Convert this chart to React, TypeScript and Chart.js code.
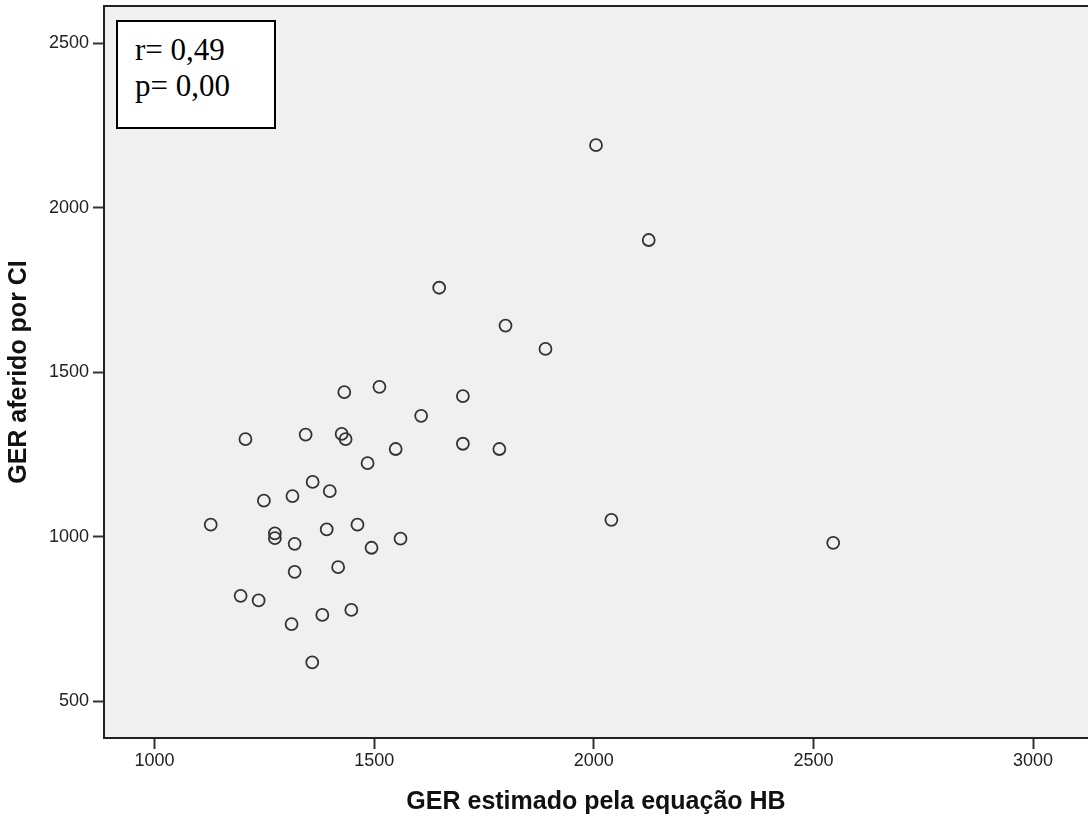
import React, { useEffect, useRef } from "react";
import { Chart, registerables } from "chart.js";

Chart.register(...registerables);

// GER estimado pela equação HB (x) and GER aferido por CI (y)
const gerEstimado = [
  2005, 2125, 1648, 1799, 1890, 1512, 1432, 1702, 1607, 1207,
  1344, 1426, 1435, 1549, 1785, 1702, 1485, 1360, 1399, 1249,
  1314, 1128, 1274, 1274, 1392, 1462, 1319, 1494, 1560, 2040,
  2545, 1319, 1418, 1196, 1237, 1448, 1382, 1312, 1359,
];
const gerAferido = [
  2190, 1902, 1757, 1642, 1571, 1456, 1440, 1428, 1368, 1297,
  1311, 1313, 1297, 1267, 1267, 1283, 1224, 1167, 1139, 1110,
  1124, 1037, 1011, 996, 1023, 1037, 979, 967, 995, 1052,
  982, 894, 908, 821, 807, 778, 763, 735, 619,
];

const xTicks = [1000, 1500, 2000, 2500, 3000];
const yTicks = [500, 1000, 1500, 2000, 2500];
const xTitle = "GER estimado pela equação HB";
const yTitle = "GER aferido por CI";
const statLines = ["r= 0,49", "p= 0,00"];

const plotFrame = {
  id: "plotFrame",
  beforeDraw(chart: any) {
    const { ctx, chartArea } = chart;
    ctx.save();
    ctx.fillStyle = "#f0f0f0";
    ctx.fillRect(chartArea.left, chartArea.top, chartArea.right - chartArea.left, chartArea.bottom - chartArea.top);
    ctx.restore();
  },
  afterDraw(chart: any) {
    const { ctx, chartArea } = chart;
    ctx.save();
    ctx.strokeStyle = "#222";
    ctx.lineWidth = 2;
    ctx.beginPath();
    ctx.moveTo(chartArea.left - 1, chartArea.top);
    ctx.lineTo(chartArea.right, chartArea.top);
    ctx.stroke();
    ctx.restore();
  },
};

const tickFont = { family: "'Liberation Sans', Arial, sans-serif", size: 18 };
const titleFont = { family: "'Liberation Sans', Arial, sans-serif", size: 25, weight: "bold" };

export default function App() {
  const ref = useRef<HTMLCanvasElement>(null);

  useEffect(() => {
    const chart = new Chart(ref.current as HTMLCanvasElement, {
      type: "scatter",
      data: {
        datasets: [
          {
            data: gerEstimado.map((x, i) => ({ x, y: gerAferido[i] })),
            pointRadius: 6,
            pointHoverRadius: 6,
            pointBorderWidth: 1.8,
            pointBorderColor: "#333333",
            pointBackgroundColor: "rgba(0,0,0,0)",
          },
        ],
      },
      options: {
        animation: false,
        responsive: false,
        events: [],
        layout: { autoPadding: false, padding: { top: 6, right: 0, left: 0, bottom: 0 } },
        plugins: { legend: { display: false }, tooltip: { enabled: false } },
        scales: {
          x: {
            type: "linear",
            min: 885,
            max: 3125,
            afterBuildTicks: (s: any) => {
              s.ticks = xTicks.map((v) => ({ value: v }));
            },
            afterFit: (s: any) => {
              s.height = 83;
              s.paddingLeft = 0;
              s.paddingRight = 0;
            },
            border: { display: true, color: "#222", width: 2 },
            grid: { display: true, drawOnChartArea: false, drawTicks: true, tickLength: 11, tickColor: "#333", tickWidth: 2 },
            ticks: {
              color: "#222",
              padding: 1,
              maxRotation: 0,
              font: tickFont,
              callback: (v: any) => String(v),
            },
            title: {
              display: true,
              text: xTitle,
              color: "#111",
              padding: { top: 0, bottom: 4 },
              font: titleFont,
            },
          },
          y: {
            type: "linear",
            min: 389,
            max: 2613,
            afterBuildTicks: (s: any) => {
              s.ticks = yTicks.map((v) => ({ value: v }));
            },
            afterFit: (s: any) => {
              s.width = 104;
              s.paddingTop = 0;
              s.paddingBottom = 0;
            },
            border: { display: true, color: "#222", width: 2 },
            grid: { display: true, drawOnChartArea: false, drawTicks: true, tickLength: 11, tickColor: "#333", tickWidth: 2 },
            ticks: {
              color: "#222",
              padding: 4,
              font: tickFont,
              callback: (v: any) => String(v),
            },
            title: {
              display: true,
              text: yTitle,
              color: "#111",
              padding: { top: 4, bottom: 0 },
              font: titleFont,
            },
          },
        },
      },
      plugins: [plotFrame],
    } as any);
    return () => chart.destroy();
  }, []);

  return (
    <div style={{ position: "absolute", left: 0, top: 0, width: 1088, height: 821, background: "#fff" }}>
      <canvas ref={ref} width={1088} height={821} style={{ display: "block", width: 1088, height: 821 }} />
      <div
        style={{
          position: "absolute",
          left: 116,
          top: 20,
          width: 160,
          height: 109,
          boxSizing: "border-box",
          border: "2px solid #000",
          background: "#fff",
          padding: "10px 0 0 17px",
          fontFamily: "'Liberation Serif', 'Times New Roman', serif",
          fontSize: 31,
          lineHeight: "36px",
          color: "#000",
        }}
      >
        {statLines.map((t) => (
          <div key={t}>{t}</div>
        ))}
      </div>
    </div>
  );
}
